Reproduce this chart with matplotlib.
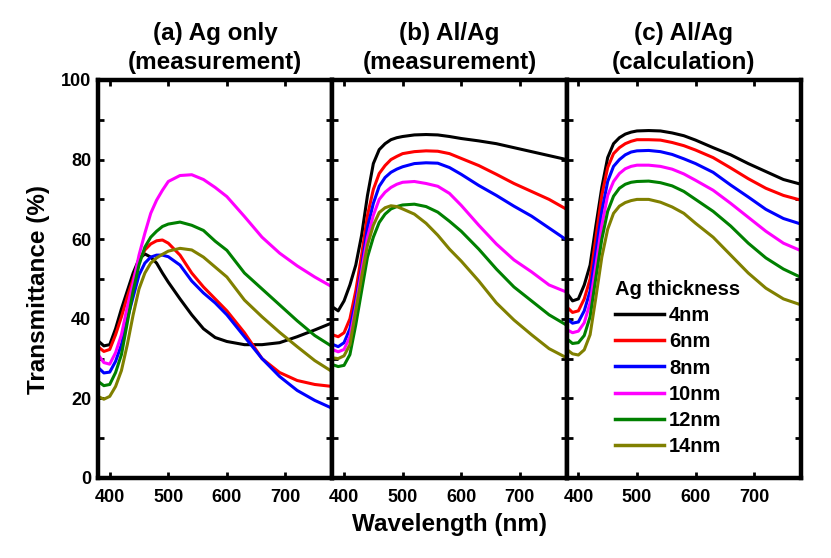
import numpy as np
import matplotlib
matplotlib.use("Agg")
import matplotlib.pyplot as plt
from matplotlib.ticker import MultipleLocator, FixedLocator

plt.rcParams['font.family'] = ['Liberation Sans', 'DejaVu Sans']
plt.rcParams['font.weight'] = 'bold'

# wavelength grid (nm) shared by all panels
wl = [380, 390, 400, 410, 420, 430, 440, 450, 460, 470, 480, 490, 500,
      520, 540, 560, 580, 600, 630, 660, 690, 720, 750, 780]

thickness = ['4nm', '6nm', '8nm', '10nm', '12nm', '14nm']
colors = ['black', '#ff0000', '#0000ff', '#ff00ff', '#008000', '#808000']
titles = ['(a) Ag only\n(measurement)', '(b) Al/Ag\n(measurement)', '(c) Al/Ag\n(calculation)']

# (a) Ag only, measured transmittance (%)
panel_a = [
    [34.5, 33.2, 33.5, 37.5, 42.5, 47.0, 51.5, 55.0, 56.3, 55.5, 54.0, 51.5, 49.2,
     45.0, 41.0, 37.5, 35.3, 34.3, 33.5, 33.5, 34.0, 35.5, 37.2, 39.0],
    [33.0, 31.8, 32.3, 36.0, 40.5, 45.5, 50.0, 54.5, 57.3, 58.8, 59.6, 59.8, 59.0,
     56.0, 51.5, 48.0, 45.0, 42.0, 36.5, 30.0, 26.5, 24.5, 23.5, 23.0],
    [27.8, 26.4, 26.6, 29.3, 33.5, 40.0, 45.5, 51.0, 54.0, 55.5, 56.0, 56.0, 55.6,
     53.5, 49.5, 46.5, 44.0, 41.0, 35.5, 30.0, 25.5, 22.0, 19.5, 17.5],
    [31.0, 29.0, 28.6, 31.5, 36.0, 43.0, 49.0, 56.0, 61.5, 66.5, 69.8, 72.3, 74.5,
     76.0, 76.2, 75.0, 73.0, 70.7, 65.7, 60.5, 56.5, 53.3, 50.5, 48.0],
    [24.3, 23.2, 23.5, 26.5, 31.0, 39.0, 47.0, 53.5, 58.0, 60.5, 62.0, 63.2, 63.8,
     64.3, 63.5, 62.2, 59.5, 57.2, 51.5, 47.5, 43.5, 39.5, 35.8, 33.0],
    [20.5, 19.8, 20.5, 23.0, 27.0, 33.5, 41.0, 47.5, 51.5, 54.0, 55.3, 56.2, 57.0,
     57.7, 57.3, 55.5, 53.0, 50.5, 44.7, 40.5, 36.6, 33.0, 29.5, 26.7],
]

# (b) Al/Ag, measured
panel_b = [
    [43.0, 42.0, 44.5, 48.5, 53.5, 61.0, 71.0, 79.0, 82.5, 84.0, 85.0, 85.5, 85.8,
     86.2, 86.3, 86.2, 85.8, 85.3, 84.7, 84.0, 83.0, 82.0, 81.0, 80.0],
    [36.0, 35.5, 36.5, 40.0, 47.0, 56.0, 66.0, 72.5, 76.5, 78.5, 80.0, 80.8, 81.5,
     82.0, 82.2, 82.1, 81.5, 80.3, 78.5, 76.3, 74.0, 72.0, 70.0, 67.5],
    [33.6, 33.0, 34.0, 37.5, 44.5, 53.0, 63.0, 69.0, 73.3, 75.5, 76.8, 77.6, 78.2,
     79.0, 79.2, 79.1, 78.0, 76.3, 73.5, 71.0, 68.3, 65.8, 62.8, 59.8],
    [32.3, 31.7, 32.3, 35.5, 43.0, 52.0, 60.5, 66.0, 70.0, 71.8, 73.0, 73.8, 74.3,
     74.5, 74.0, 73.3, 71.5, 68.5, 63.5, 58.8, 54.8, 51.8, 48.5, 46.7],
    [28.5, 28.0, 28.3, 31.0, 38.5, 47.0, 55.5, 60.5, 64.2, 66.3, 67.6, 68.2, 68.6,
     68.8, 68.2, 66.8, 64.5, 62.0, 57.5, 52.5, 48.0, 44.5, 41.0, 38.4],
    [30.2, 30.0, 30.7, 33.5, 42.0, 50.5, 58.5, 63.5, 66.7, 67.9, 68.4, 68.2, 67.6,
     66.3, 64.0, 61.0, 57.5, 54.5, 49.5, 44.0, 39.7, 36.0, 32.5, 30.2],
]

# (c) Al/Ag, calculated
panel_c = [
    [46.5, 44.5, 45.0, 48.5, 53.5, 63.5, 73.0, 80.5, 84.0, 85.5, 86.4, 86.9, 87.2,
     87.3, 87.2, 86.7, 86.0, 84.9, 83.0, 81.2, 79.0, 77.0, 75.0, 73.8],
    [43.0, 41.6, 42.0, 45.0, 50.0, 60.5, 71.0, 78.0, 81.5, 83.0, 84.0, 84.6, 85.0,
     85.0, 84.9, 84.3, 83.5, 82.4, 80.5, 77.9, 75.2, 72.8, 71.0, 69.8],
    [40.0, 38.9, 39.2, 42.0, 47.0, 57.0, 67.0, 74.5, 78.3, 80.0, 81.2, 81.9, 82.2,
     82.3, 82.0, 81.3, 80.2, 79.0, 76.8, 73.6, 70.6, 67.5, 65.2, 63.8],
    [37.3, 36.5, 36.9, 39.0, 44.0, 53.5, 63.5, 71.0, 74.5, 76.5, 77.7, 78.3, 78.6,
     78.6, 78.3, 77.6, 76.4, 74.8, 72.3, 69.0, 65.5, 62.0, 59.0, 57.1],
    [35.0, 33.8, 34.0, 35.8, 40.5, 50.5, 60.0, 67.0, 70.8, 72.8, 73.8, 74.3, 74.5,
     74.6, 74.2, 73.4, 72.0, 70.0, 67.0, 63.3, 59.0, 55.3, 52.5, 50.4],
    [32.3, 31.2, 30.9, 32.2, 36.0, 45.5, 55.5, 62.5, 66.5, 68.3, 69.2, 69.7, 70.0,
     70.0, 69.3, 68.1, 66.5, 64.0, 60.5, 56.0, 51.5, 47.7, 45.0, 43.5],
]

fig = plt.figure(figsize=(8.31, 5.58), dpi=100)

W, H = 831.0, 558.0
left, right = 98, 801
bottom, top = 478, 80
pw = (right - left) / 3.0

axes = []
for i, data in enumerate([panel_a, panel_b, panel_c]):
    ax = fig.add_axes([(left + i * pw) / W, (H - bottom) / H, pw / W, (bottom - top) / H])
    for vals, c, lab in zip(data, colors, thickness):
        ax.plot(wl, vals, color=c, lw=2.2, label=lab)
    ax.set_xlim(380, 780)
    ax.set_ylim(0, 100)
    ax.xaxis.set_major_locator(FixedLocator([400, 500, 600, 700]))
    ax.yaxis.set_major_locator(MultipleLocator(20))
    ax.yaxis.set_minor_locator(MultipleLocator(10))
    ax.tick_params(which='both', direction='in', top=True, right=True,
                   length=4, width=2, labelsize=13)
    ax.tick_params(axis='x', pad=8)
    ax.tick_params(axis='y', pad=5)
    if i > 0:
        ax.tick_params(labelleft=False)
    for s in ax.spines.values():
        s.set_linewidth(3.2)
    ax.set_title(titles[i], fontsize=17.5, fontweight='bold', pad=8, linespacing=1.3)
    axes.append(ax)

leg = axes[2].legend(title='Ag thickness', frameon=False, loc='upper left',
                     bbox_to_anchor=(0.205, 0.498), borderpad=0, borderaxespad=0,
                     handlelength=2.45, handletextpad=0.25, labelspacing=0.36,
                     prop={'weight': 'bold', 'size': 14.5},
                     title_fontproperties={'weight': 'bold', 'size': 14.5})
leg._legend_box.align = 'left'
for h in leg.get_lines():
    h.set_linewidth(2.5)

fig.text(449 / W, 1 - 525 / H, 'Wavelength (nm)', ha='center', va='center',
         fontsize=17.5, fontweight='bold')
fig.text(39 / W, 1 - 290 / H, 'Transmittance (%)', ha='center', va='center',
         rotation=90, fontsize=17.5, fontweight='bold')

fig.savefig('out.png', dpi=100)
